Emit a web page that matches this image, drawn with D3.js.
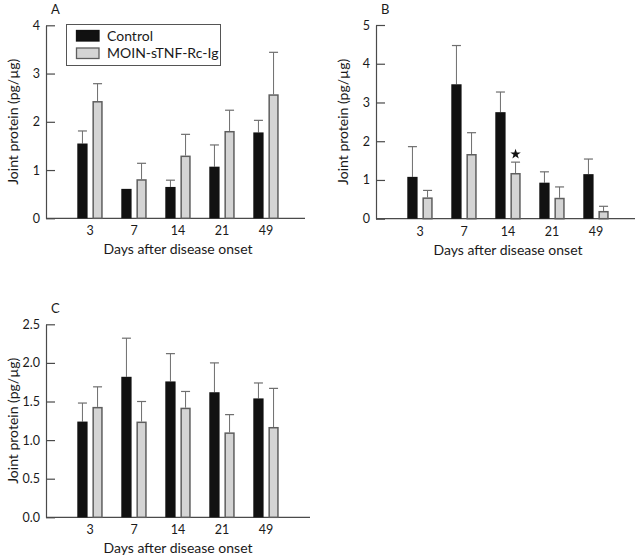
<!DOCTYPE html>
<html>
<head>
<meta charset="utf-8">
<script src="https://cdn.jsdelivr.net/npm/d3@7"></script>
<style>
  html, body { margin: 0; padding: 0; background: #fff; }
  svg { display: block; }
  text { font-family: "Lato", "Noto Sans", sans-serif; fill: #1a1a1a; }
</style>
</head>
<body>
<svg id="chart" width="640" height="558"></svg>
<script>
// ---- data ----
const categories = ["3", "7", "14", "21", "49"];
const seriesNames = ["Control", "MOIN-sTNF-Rc-Ig"];

const controlA = [1.55, 0.61, 0.65, 1.07, 1.78];
const controlASem = [0.26, 0, 0.14, 0.45, 0.25];
const treatedA = [2.43, 0.81, 1.30, 1.81, 2.57];
const treatedASem = [0.36, 0.33, 0.44, 0.43, 0.87];

const controlB = [1.08, 3.47, 2.75, 0.93, 1.15];
const controlBSem = [0.78, 1.00, 0.52, 0.28, 0.39];
const treatedB = [0.55, 1.67, 1.18, 0.54, 0.20];
const treatedBSem = [0.18, 0.55, 0.28, 0.28, 0.12];

const controlC = [1.24, 1.82, 1.76, 1.62, 1.54];
const controlCSem = [0.24, 0.50, 0.36, 0.38, 0.20];
const treatedC = [1.43, 1.24, 1.42, 1.10, 1.17];
const treatedCSem = [0.26, 0.26, 0.21, 0.23, 0.50];

const ticksA = [0, 1, 2, 3, 4];
const ticksB = [0, 1, 2, 3, 4, 5];
const ticksC = [0, 0.5, 1.0, 1.5, 2.0, 2.5];

const significantB = [false, false, true, false, false]; // star above treated bars

const yTitle = "Joint protein (pg/\u00b5g)";
const xTitle = "Days after disease onset";

// ---- drawing ----
const svg = d3.select("#chart");
const AXIS = "#4a4a4a";
const ERR = "#6e6e6e";

function panel(opt) {
  const g = svg.append("g");
  const y = d3.scaleLinear().domain([0, opt.yMax]).range([opt.y0, opt.yTop]);
  const x = d3.scaleBand().domain(categories).range([opt.x0 + 22, opt.x0 + 242]).padding(0);
  const inner = d3.scaleBand().domain(seriesNames).range([-12.7, 12.7]).paddingInner(0.32);

  // y axis
  const ya = d3.axisLeft(y).tickValues(opt.ticks).tickFormat(opt.fmt)
    .tickSizeInner(-9).tickSizeOuter(0).tickPadding(6);
  const yg = g.append("g").attr("transform", `translate(${opt.x0},0)`).call(ya);
  yg.selectAll("path.domain").attr("stroke", AXIS).attr("stroke-width", 1.2);
  yg.selectAll(".tick line").attr("stroke", AXIS).attr("stroke-width", 1.2);
  yg.selectAll(".tick text").style("font-size", "12.5px").attr("fill", "#1a1a1a")
    .style("font-family", "Lato, 'Noto Sans', sans-serif");

  // x axis baseline
  g.append("line").attr("x1", opt.x0).attr("x2", opt.xEnd)
    .attr("y1", y(0)).attr("y2", y(0)).attr("stroke", AXIS).attr("stroke-width", 1.2);
  const xa = d3.axisBottom(x).tickSize(0).tickPadding(8);
  const xg = g.append("g").attr("transform", `translate(0,${y(0)})`).call(xa);
  xg.select("path.domain").remove();
  xg.selectAll(".tick text").style("font-size", "12.5px").attr("fill", "#1a1a1a")
    .style("font-family", "Lato, 'Noto Sans', sans-serif");

  const series = [
    { name: seriesNames[0], vals: opt.control, sem: opt.controlSem, fill: "#111", stroke: "#111", sw: 0 },
    { name: seriesNames[1], vals: opt.treated, sem: opt.treatedSem, fill: "#d4d4d4", stroke: "#5e5e5e", sw: 1.5 }
  ];
  series.forEach(s => {
    const cx = (i) => x(categories[i]) + x.bandwidth() / 2 + inner(s.name);
    const bw = inner.bandwidth();
    // error bars (upper only)
    s.vals.forEach((v, i) => {
      if (!s.sem[i]) return;
      const xm = cx(i) + bw / 2;
      g.append("line").attr("x1", xm).attr("x2", xm)
        .attr("y1", y(v)).attr("y2", y(v + s.sem[i])).attr("stroke", ERR).attr("stroke-width", 1);
      g.append("line").attr("x1", xm - 4.5).attr("x2", xm + 4.5)
        .attr("y1", y(v + s.sem[i])).attr("y2", y(v + s.sem[i])).attr("stroke", ERR).attr("stroke-width", 1.2);
    });
    g.selectAll(null).data(s.vals).enter().append("rect")
      .attr("x", (d, i) => cx(i) + s.sw / 2)
      .attr("y", d => y(d) + s.sw / 2)
      .attr("width", bw - s.sw)
      .attr("height", d => y(0) - y(d) - s.sw / 2)
      .attr("fill", s.fill)
      .attr("stroke", s.sw ? s.stroke : "none")
      .attr("stroke-width", s.sw);
    if (opt.stars && s.name === seriesNames[1]) {
      s.vals.forEach((v, i) => {
        if (!opt.stars[i]) return;
        g.append("path").attr("d", d3.symbol(d3.symbolStar, 34)())
          .attr("transform", `translate(${cx(i) + bw / 2},${y(v + s.sem[i]) - 8})`)
          .attr("fill", "#111");
      });
    }
  });

  // panel letter
  g.append("text").attr("x", opt.x0 + 5).attr("y", opt.yTop - 11)
    .style("font-size", "13px").text(opt.letter);

  // axis titles
  g.append("text").attr("transform", `translate(${opt.x0 - 33},${(opt.y0 + opt.yTop) / 2}) rotate(-90)`)
    .attr("text-anchor", "middle").attr("dy", "0.35em").style("font-size", "14px").text(yTitle);
  g.append("text").attr("x", opt.x0 + 132).attr("y", opt.y0 + 36)
    .attr("text-anchor", "middle").style("font-size", "14px").text(xTitle);

  return { g, x, y, inner };
}

const pA = panel({ letter: "A", x0: 46, xEnd: 305, y0: 218.3, yTop: 25.3, yMax: 4, ticks: ticksA, fmt: d3.format("d"),
  control: controlA, controlSem: controlASem, treated: treatedA, treatedSem: treatedASem });
panel({ letter: "B", x0: 376, xEnd: 635, y0: 218.7, yTop: 25, yMax: 5, ticks: ticksB, fmt: d3.format("d"),
  control: controlB, controlSem: controlBSem, treated: treatedB, treatedSem: treatedBSem, stars: significantB });
panel({ letter: "C", x0: 46, xEnd: 310, y0: 517.3, yTop: 324.3, yMax: 2.5, ticks: ticksC, fmt: d3.format(".1f"),
  control: controlC, controlSem: controlCSem, treated: treatedC, treatedSem: treatedCSem });

// legend (panel A)
const lg = pA.g.append("g");
lg.append("rect").attr("x", 66.5).attr("y", 24.5).attr("width", 154).attr("height", 41)
  .attr("fill", "#fff").attr("stroke", "#555").attr("stroke-width", 1);
const legendItems = [
  { name: seriesNames[0], fill: "#111", stroke: "#111" },
  { name: seriesNames[1], fill: "#d4d4d4", stroke: "#5e5e5e" }
];
legendItems.forEach((d, i) => {
  lg.append("rect").attr("x", 76.5).attr("y", 30.5 + i * 17.5).attr("width", 22.5).attr("height", 10.5)
    .attr("fill", d.fill).attr("stroke", d.stroke).attr("stroke-width", 1.3);
  lg.append("text").attr("x", 107).attr("y", 36 + i * 17.5).attr("dy", "0.35em")
    .style("font-size", "14px").text(d.name);
});
</script>
</body>
</html>
